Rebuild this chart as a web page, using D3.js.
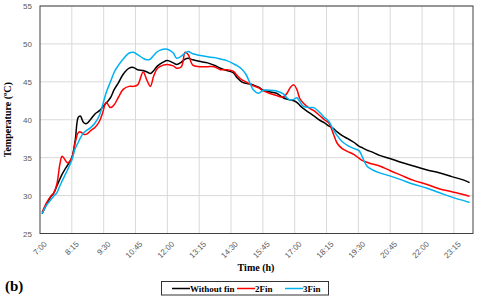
<!DOCTYPE html>
<html>
<head>
<meta charset="utf-8">
<script src="https://cdn.jsdelivr.net/npm/d3@7"></script>
<style>
  body { margin: 0; background: #fff; }
  svg { display: block; }
  .tick text { fill: #595959; font-family: "Liberation Sans", Arial, sans-serif; font-size: 8px; }
  .title { font-family: "Liberation Serif", "Times New Roman", serif; font-weight: bold; fill: #000; }
  .legend text { font-family: "Liberation Serif", "Times New Roman", serif; font-weight: bold; font-size: 9px; }
</style>
</head>
<body>
<div id="chart"></div>
<script>
// DATA
const times = ["7:05","7:15","7:25","7:32","7:40","7:47","7:52","7:58","8:05","8:15","8:23","8:30","8:35","8:43","8:50",
  "9:00","9:10","9:20","9:28","9:36","9:46","9:55","10:05","10:16","10:30","10:40","10:50","11:03","11:12","11:20",
  "11:28","11:37","11:50","12:00","12:14","12:22","12:33","12:42","12:49","13:00","13:15","13:35","13:50","14:05",
  "14:20","14:35","14:45","14:55","15:05","15:15","15:22","15:35","15:46","16:00","16:17","16:33","16:43","16:50",
  "16:58","17:05","17:12","17:20","17:35","17:45","18:00","18:10","18:20","18:30","18:40","18:52","19:05","19:20",
  "19:32","19:40","19:50","20:00","20:20","20:44","21:10","21:40","22:10","22:40","23:10","23:40","23:52"];

const withoutFin = [27.6,28.8,29.8,30.3,31.3,32.2,32.8,33.4,34.0,35.0,37.3,40.3,40.5,39.6,39.5,
  40.1,40.8,41.2,41.7,42.2,42.9,44.0,44.9,46.0,46.8,46.9,46.6,46.5,46.3,46.1,
  46.5,47.1,47.6,47.8,47.5,47.3,47.6,48.0,48.1,47.9,47.7,47.5,47.2,46.8,
  46.5,46.2,45.5,45.0,44.8,44.7,44.6,44.3,43.9,43.7,43.5,42.9,42.7,42.6,
  42.5,42.3,41.9,41.5,40.9,40.5,39.9,39.6,39.2,38.9,38.4,37.9,37.5,37.0,
  36.5,36.3,36.0,35.8,35.3,34.9,34.4,33.9,33.4,33.0,32.5,32.0,31.7];

const fin2 = [27.8,29.0,29.9,30.3,31.6,34.2,35.2,34.8,34.3,35.0,37.0,38.3,38.4,38.1,38.1,
  38.6,39.0,39.8,41.0,42.3,41.6,42.0,43.0,44.0,44.4,44.4,44.6,46.3,45.2,44.4,
  45.8,46.8,47.2,47.3,47.1,46.8,47.0,48.9,48.6,47.2,47.0,47.0,47.0,46.6,
  46.6,46.4,45.8,45.3,45.0,44.7,44.5,44.2,43.8,43.5,43.2,43.0,43.6,44.3,
  44.6,44.0,42.8,42.2,41.5,41.2,40.5,40.0,39.6,38.3,36.9,36.2,35.8,35.4,
  34.9,34.6,34.4,34.2,33.9,33.3,32.7,32.0,31.5,30.9,30.5,30.1,29.9];

const fin3 = [27.6,28.7,29.4,29.9,30.4,31.3,31.9,32.6,33.4,34.7,36.2,37.0,37.6,38.3,38.6,
  39.0,39.6,40.6,42.0,43.6,45.0,46.3,47.2,48.0,48.8,48.9,48.6,48.1,47.9,48.0,
  48.5,49.0,49.3,49.3,48.8,48.1,48.4,48.8,49.0,48.7,48.5,48.3,48.2,48.0,
  47.8,47.4,47.1,46.7,46.0,44.8,44.0,43.5,43.9,43.9,43.8,43.4,42.8,42.6,
  42.7,42.9,42.4,41.8,41.6,41.6,40.9,40.3,39.8,38.8,37.9,37.1,36.6,36.2,
  35.9,35.0,33.9,33.5,33.0,32.6,32.1,31.5,31.0,30.4,29.8,29.3,29.1];

const tickLabels = ["7:00","8:15","9:30","10:45","12:00","13:15","14:30","15:45","17:00","18:15","19:30","20:45","22:00","23:15"];
const yTicks = [25, 30, 35, 40, 45, 50, 55];

const seriesNames = ["Without fin", "2Fin", "3Fin"];
const seriesColors = ["#000000", "#ff0000", "#00b0f0"];
const seriesValues = [withoutFin, fin2, fin3];

// minutes after 7:00
const toMin = s => { const p = s.split(":"); return (+p[0] - 7) * 60 + (+p[1]); };

// SIZES
const width = 480, height = 298;
const margin = {left: 40, top: 6, right: 7, bottom: 64.5};

const svg = d3.select('#chart').append('svg')
  .attr('width', width)
  .attr('height', height);

const x = d3.scaleLinear().domain([0, 1020]).range([margin.left, width - margin.right]);
const y = d3.scaleLinear().domain([25, 55]).range([height - margin.bottom, margin.top]);

// GRID
svg.append('g')
  .selectAll('line.h')
  .data(yTicks)
  .join('line')
  .attr('x1', margin.left).attr('x2', width - margin.right)
  .attr('y1', d => y(d)).attr('y2', d => y(d))
  .attr('stroke', '#d9d9d9').attr('stroke-width', 1);

svg.append('g')
  .selectAll('line.v')
  .data(tickLabels.slice(1))
  .join('line')
  .attr('x1', d => x(toMin(d))).attr('x2', d => x(toMin(d)))
  .attr('y1', margin.top).attr('y2', height - margin.bottom)
  .attr('stroke', '#d9d9d9').attr('stroke-width', 1);

// AXES
const yAxis = svg.append('g')
  .attr('transform', `translate(${margin.left},0)`)
  .call(d3.axisLeft(y).tickValues(yTicks).tickSize(0).tickPadding(8));
yAxis.select('.domain').remove();

const xAxis = svg.append('g')
  .attr('transform', `translate(0,${height - margin.bottom})`)
  .call(d3.axisBottom(x).tickValues(tickLabels.map(toMin)).tickFormat((d, i) => tickLabels[i]).tickSize(0));
xAxis.select('.domain').remove();
xAxis.selectAll('text')
  .attr('text-anchor', 'end')
  .attr('transform', 'translate(5,9) rotate(-45)')
  .attr('dy', '0.35em')
  .attr('y', 0);

// FRAME
svg.append('rect')
  .attr('x', margin.left).attr('y', margin.top)
  .attr('width', width - margin.left - margin.right)
  .attr('height', height - margin.top - margin.bottom)
  .attr('fill', 'none')
  .attr('stroke', '#404040')
  .attr('stroke-width', 1);

// LINES
const line = d3.line()
  .x(d => x(d[0]))
  .y(d => y(d[1]))
  .curve(d3.curveCatmullRom.alpha(0.5));

seriesValues.forEach((vals, i) => {
  svg.append('path')
    .datum(times.map((t, j) => [toMin(t), vals[j]]))
    .attr('fill', 'none')
    .attr('stroke', seriesColors[i])
    .attr('stroke-width', 1.5)
    .attr('d', line);
});

// TITLES
svg.append('text')
  .attr('class', 'title')
  .attr('transform', `translate(11,${(margin.top + height - margin.bottom) / 2}) rotate(-90)`)
  .attr('text-anchor', 'middle')
  .style('font-size', '10px')
  .text('Temperature (ºC)');

svg.append('text')
  .attr('class', 'title')
  .attr('x', 256).attr('y', 271)
  .attr('text-anchor', 'middle')
  .style('font-size', '10px')
  .text('Time (h)');

svg.append('text')
  .attr('class', 'title')
  .attr('x', 5).attr('y', 291)
  .style('font-size', '15px')
  .text('(b)');

// LEGEND
const legend = svg.append('g').attr('class', 'legend');
legend.append('rect')
  .attr('x', 161.5).attr('y', 281.5)
  .attr('width', 167).attr('height', 13.5)
  .attr('fill', '#fff')
  .attr('stroke', '#333')
  .attr('stroke-width', 1);

const legX = [172, 237, 285];
seriesNames.forEach((name, i) => {
  legend.append('line')
    .attr('x1', legX[i]).attr('x2', legX[i] + 18)
    .attr('y1', 288.5).attr('y2', 288.5)
    .attr('stroke', seriesColors[i])
    .attr('stroke-width', 1.5);
  legend.append('text')
    .attr('x', legX[i] + 18).attr('y', 291.5)
    .text(name);
});
</script>
</body>
</html>
